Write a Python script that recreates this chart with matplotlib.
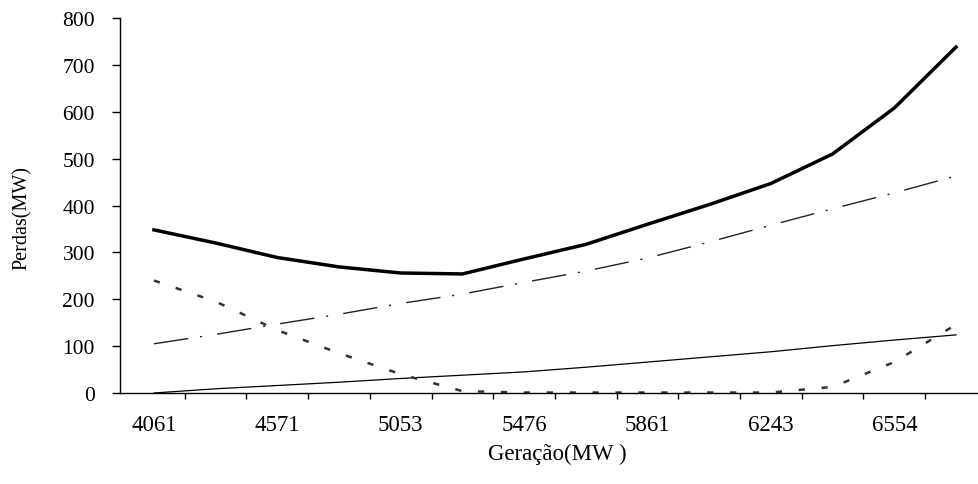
import matplotlib
matplotlib.use("Agg")
import matplotlib.pyplot as plt
import numpy as np

# ---- data ----
x_labels = ["4061", "4571", "5053", "5476", "5861", "6243", "6554"]  # shown every 2nd category
n_categories = 14
total_losses = [348, 320, 289, 269, 256, 254, 286, 317, 360, 402, 447, 510, 608, 738]
dashdot_series = [105, 125, 147, 168, 191, 211, 236, 260, 288, 322, 358, 393, 427, 463]
thin_series = [0, 9, 16, 23, 31, 38, 45, 55, 66, 77, 88, 101, 113, 124]
dashed_series = [240, 195, 134, 85, 40, 4, 1, 1, 1, 1, 1, 13, 66, 146]
y_ticks = [0, 100, 200, 300, 400, 500, 600, 700, 800]

plt.rcParams['font.family'] = ['Liberation Serif', 'DejaVu Serif']
plt.rcParams['lines.scale_dashes'] = False

W, H = 979, 485
fig = plt.figure(figsize=(W / 100, H / 100), dpi=100)
ax_left, ax_right, ax_top, ax_bottom = 120, 979, 19, 394
ax = fig.add_axes([ax_left / W, 1 - ax_bottom / H, (ax_right - ax_left) / W, (ax_bottom - ax_top) / H])

x = np.arange(n_categories)
ax.plot(x, total_losses, color='black', lw=2.5, solid_joinstyle='round')
ax.plot(x, dashdot_series, color='#222222', lw=1.0, dashes=(25, 8.5, 1.5, 11))
ax.plot(x, thin_series, color='black', lw=0.9)
ax.plot(x, dashed_series, color='#333333', lw=1.8, dashes=(4.5, 12))

ax.set_ylim(0, 800)
ax.set_xlim(-0.55, -0.55 + (ax_right - ax_left) / 61.7)

ax.set_yticks(y_ticks)
ax.set_yticklabels([str(v) for v in y_ticks])
ax.tick_params(axis='y', direction='out', length=6, width=1, pad=12, labelsize=15.5)

# labels at every other category, tick marks at category boundaries
ax.set_xticks(x[::2])
ax.set_xticklabels(x_labels)
ax.tick_params(axis='x', which='major', length=0, pad=15, labelsize=16.5)
ax.set_xticks(np.arange(0.5, n_categories - 0.5, 1.0), minor=True)
ax.tick_params(axis='x', which='minor', direction='out', length=4.5, width=1)

for s in ['top', 'right']:
    ax.spines[s].set_visible(False)
for s in ['left', 'bottom']:
    ax.spines[s].set_linewidth(1.0)
    ax.spines[s].set_color('black')

ax.set_xlabel('Geração(MW )', fontsize=16.5)
ax.xaxis.set_label_coords(0.509, -0.132)
ax.set_ylabel('Perdas(MW)', fontsize=14.5)
ax.yaxis.set_label_coords(-0.1025, 0.469)

fig.savefig('out.png', dpi=100)
